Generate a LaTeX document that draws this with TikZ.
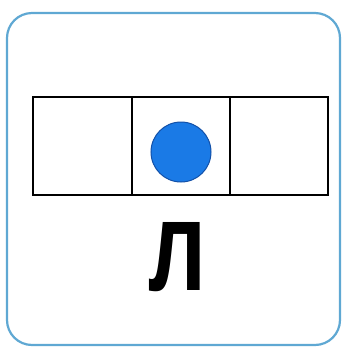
\documentclass[tikz,border=0pt]{standalone}
\usepackage{fontspec}
\newfontfamily\lettfont{Liberation Sans}
\definecolor{frameblue}{HTML}{5FA8D3}
\definecolor{dotblue}{HTML}{1A7AE6}
\definecolor{dotedge}{HTML}{1250A8}
\tikzset{
  cell/.style={draw=black, line width=1.4pt},
  frame/.style={draw=frameblue, line width=2.2pt, rounded corners=25pt},
  dot/.style={circle, fill=dotblue, draw=dotedge, line width=1pt, minimum size=60pt, inner sep=0pt},
  lett/.style={inner sep=0pt, anchor=north}
}
\begin{document}
\begin{tikzpicture}[x=1pt,y=-1pt]
\useasboundingbox (0,0) rectangle (344,349);
\draw[frame] (7,13) rectangle (340,345);
\draw[cell] (33,97) rectangle (132,195);
\draw[cell] (132,97) rectangle (230,195);
\draw[cell] (230,97) rectangle (328,195);
\node[dot] (d) at (181,152) {};
\node[lett] (l) at (178,222) {\resizebox{58pt}{68pt}{\lettfont\bfseries л}};
\end{tikzpicture}
\end{document}
